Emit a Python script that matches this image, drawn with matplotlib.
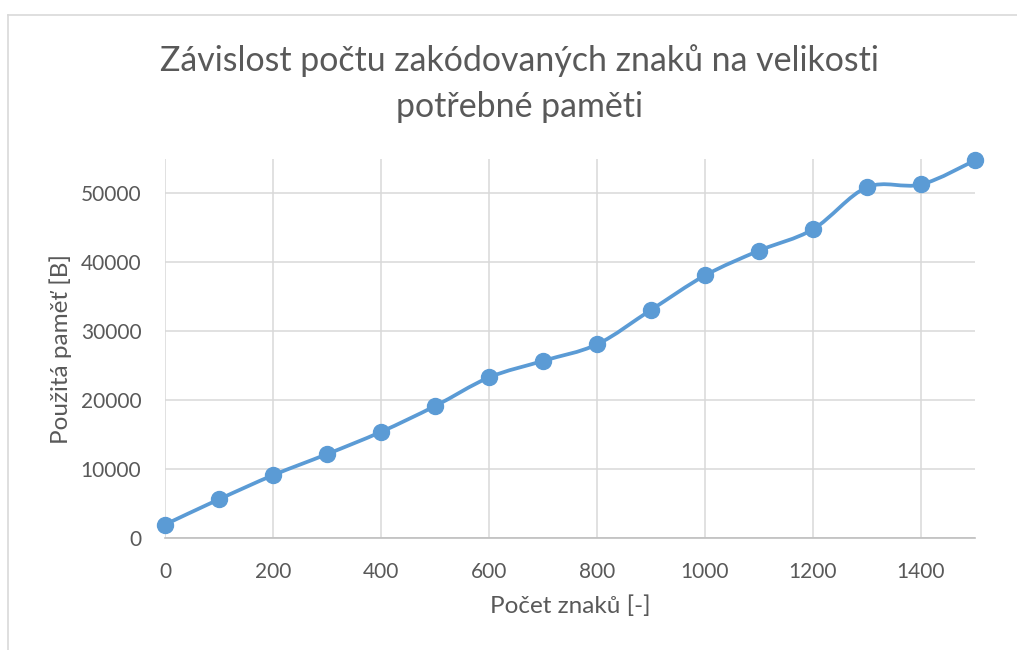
import numpy as np
import matplotlib
matplotlib.use('Agg')
import matplotlib.pyplot as plt
from matplotlib.path import Path
from matplotlib.patches import PathPatch
from matplotlib.lines import Line2D

plt.rcParams['font.family'] = ['Lato', 'DejaVu Sans']

# data
znaky = [0, 100, 200, 300, 400, 500, 600, 700, 800, 900, 1000, 1100, 1200, 1300, 1400, 1500]
pamet = [1950, 5620, 9110, 12170, 15400, 19140, 23300, 25700, 28100, 33100, 38100, 41700,
         44800, 50900, 51300, 54800]

x_ticks = [0, 200, 400, 600, 800, 1000, 1200, 1400]
y_ticks = [0, 10000, 20000, 30000, 40000, 50000]

title = 'Závislost počtu zakódovaných znaků na velikosti\npotřebné paměti'
xlabel = 'Počet znaků [-]'
ylabel = 'Použitá paměť [B]'

blue = '#5B9BD5'
grey_text = '#595959'
grid_col = '#D9D9D9'


def smooth_path(xs, ys):
    # Excel-like smoothed line: cubic bezier segments, catmull-rom control points
    p = np.column_stack([xs, ys]).astype(float)
    ext = np.vstack([p[0], p, p[-1]])
    verts = [p[0]]
    codes = [Path.MOVETO]
    for i in range(len(p) - 1):
        p0, p1, p2, p3 = ext[i], ext[i + 1], ext[i + 2], ext[i + 3]
        c1 = p1 + (p2 - p0) / 6.0
        c2 = p2 - (p3 - p1) / 6.0
        verts += [c1, c2, p2]
        codes += [Path.CURVE4] * 3
    return Path(verts, codes)


fig = plt.figure(figsize=(10.17, 6.5), dpi=100)
ax = fig.add_axes([165 / 1017, 1 - 538 / 650, (975 - 165) / 1017, (538 - 159) / 650])

ax.add_patch(PathPatch(smooth_path(znaky, pamet), fill=False, edgecolor=blue,
                       lw=2.7, capstyle='round', joinstyle='round', zorder=3, clip_on=False))
ax.plot(znaky, pamet, 'o', ms=11.5, color=blue, zorder=4, clip_on=False)

ax.set_xlim(0, 1500)
ax.set_ylim(0, 55000)
ax.set_xticks(x_ticks)
ax.set_yticks(y_ticks)
ax.grid(True, color=grid_col, lw=1.1, zorder=0)
ax.set_axisbelow(True)
for s in ['top', 'right', 'left']:
    ax.spines[s].set_visible(False)
ax.spines['bottom'].set_color('#BFBFBF')
ax.spines['bottom'].set_linewidth(1.2)
ax.spines['bottom'].set_zorder(1)
ax.tick_params(length=0, labelsize=15, colors=grey_text)
ax.tick_params(axis='x', pad=17)
ax.tick_params(axis='y', pad=17)

ax.set_xlabel(xlabel, fontsize=17.5, color=grey_text, labelpad=10)
ax.set_ylabel(ylabel, fontsize=17.5, color=grey_text, labelpad=6)

fig.text(519 / 1017, 1 - 44 / 650, title, ha='center', va='top', fontsize=24.4,
         color=grey_text, linespacing=1.55)

# chart area border (cropped on the right and bottom)
fig.add_artist(Line2D([8 / 1017, 8 / 1017], [0, 1 - 15 / 650], color=grid_col, lw=1.2))
fig.add_artist(Line2D([8 / 1017, 1], [1 - 15 / 650, 1 - 15 / 650], color=grid_col, lw=1.2))

fig.savefig('out.png', dpi=100)
